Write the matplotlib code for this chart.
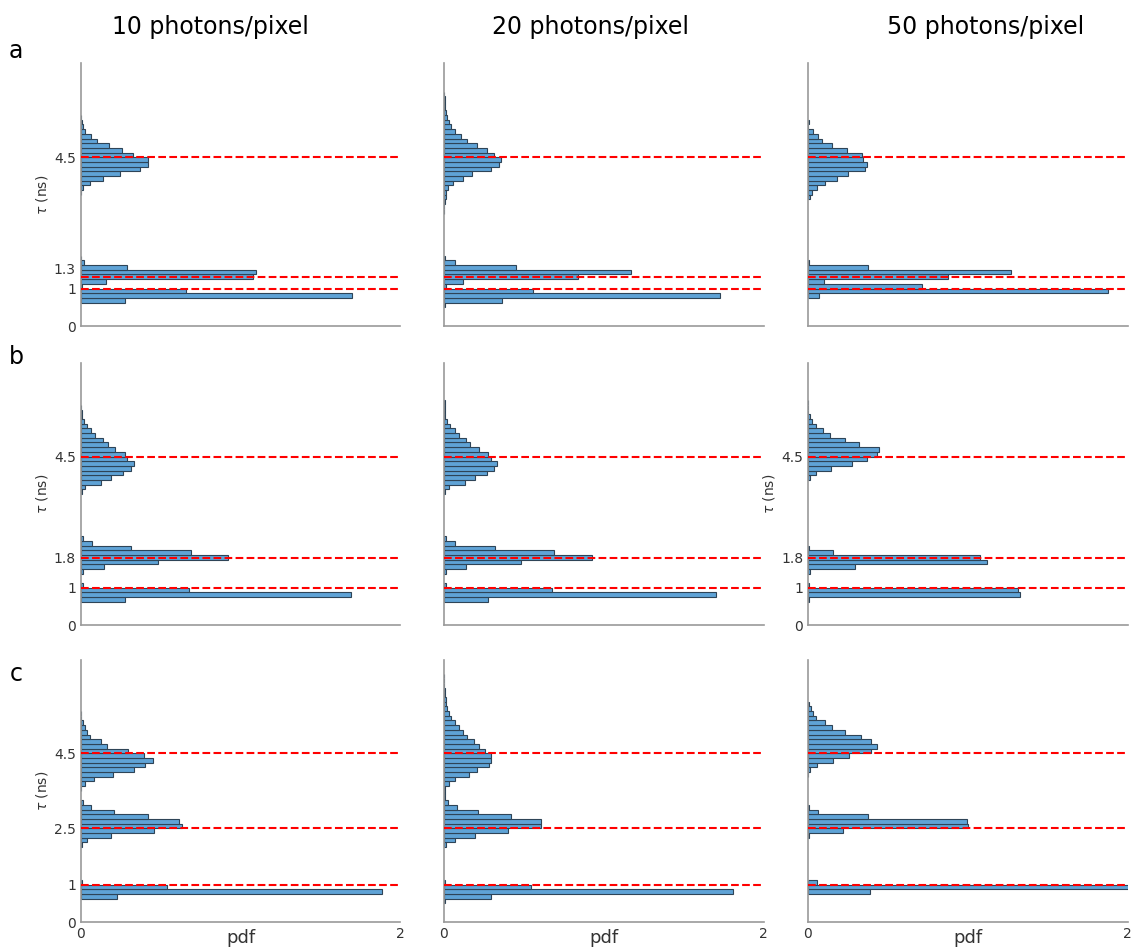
import matplotlib
matplotlib.use("Agg")
import matplotlib.pyplot as plt

# histogram bin width (ns); every cluster is {first bin edge (ns): pdf values going up}
BIN = 0.125

titles = ["10 photons/pixel", "20 photons/pixel", "50 photons/pixel"]
row_letters = ["a", "b", "c"]
true_taus = [[1, 1.3, 4.5], [1, 1.8, 4.5], [1, 2.5, 4.5]]
tick_labels = [["0", "1", "1.3", "4.5"], ["0", "1", "1.8", "4.5"], ["0", "1", "2.5", "4.5"]]

# row a: 1 ns / 1.3 ns / 4.5 ns
a10 = {0.625: [0.28, 1.70, 0.66, 0.01, 0.16, 1.08, 1.10, 0.29, 0.02, 0.005],
       3.5: [0.004, 0.013, 0.058, 0.138, 0.246, 0.37, 0.42, 0.42, 0.325, 0.26,
             0.175, 0.10, 0.067, 0.03, 0.012, 0.006, 0.003]}
a20 = {0.5: [0.004, 0.36, 1.73, 0.56, 0.013, 0.12, 0.84, 1.17, 0.45, 0.071, 0.004],
       3.0: [0.002, 0.003, 0.006, 0.013, 0.013, 0.025, 0.054, 0.117, 0.175, 0.292,
             0.347, 0.355, 0.313, 0.267, 0.205, 0.142, 0.109, 0.067, 0.046, 0.029,
             0.021, 0.013, 0.008, 0.008, 0.004, 0.002]}
a50 = {0.75: [0.071, 1.88, 0.714, 0.10, 0.875, 1.27, 0.378, 0.004],
       3.375: [0.010, 0.023, 0.058, 0.106, 0.184, 0.248, 0.355, 0.372, 0.347, 0.338,
               0.242, 0.152, 0.088, 0.061, 0.029, 0.0, 0.005]}

# row b: 1 ns / 1.8 ns / 4.5 ns
b10 = {0.625: [0.276, 1.695, 0.676, 0.012],
       1.375: [0.012, 0.144, 0.482, 0.925, 0.689, 0.317, 0.069, 0.012],
       3.5: [0.008, 0.029, 0.129, 0.192, 0.263, 0.313, 0.334, 0.288, 0.276, 0.217,
             0.171, 0.138, 0.092, 0.067, 0.038, 0.021, 0.010, 0.008, 0.005]}
b20 = {0.625: [0.276, 1.70, 0.676, 0.012],
       1.375: [0.012, 0.138, 0.484, 0.927, 0.689, 0.317, 0.067, 0.012],
       3.5: [0.008, 0.033, 0.129, 0.192, 0.267, 0.313, 0.334, 0.292, 0.276, 0.217,
             0.163, 0.138, 0.092, 0.067, 0.038, 0.021, 0.008, 0.006, 0.005, 0.004]}
b50 = {0.625: [0.008, 1.328, 1.315, 0.008],
       1.375: [0.013, 0.292, 1.119, 1.077, 0.159, 0.004],
       3.875: [0.013, 0.052, 0.144, 0.278, 0.372, 0.434, 0.443, 0.322, 0.234, 0.140,
               0.096, 0.050, 0.027, 0.013, 0.003, 0.003, 0.003]}

# row c: 1 ns / 2.5 ns / 4.5 ns
c10 = {0.625: [0.225, 1.889, 0.539, 0.008],
       2.0: [0.006, 0.038, 0.192, 0.459, 0.635, 0.618, 0.422, 0.209, 0.063, 0.017],
       3.5: [0.005, 0.029, 0.084, 0.200, 0.334, 0.401, 0.455, 0.397, 0.296, 0.167,
             0.125, 0.058, 0.042, 0.025, 0.013, 0.0, 0.004]}
c20 = {0.5: [0.004, 0.292, 1.81, 0.547, 0.008],
       2.0: [0.013, 0.067, 0.196, 0.401, 0.605, 0.610, 0.422, 0.213, 0.084, 0.025,
             0.008, 0.004],
       3.5: [0.008, 0.029, 0.071, 0.159, 0.209, 0.280, 0.292, 0.292, 0.259, 0.221,
             0.188, 0.146, 0.117, 0.092, 0.071, 0.042, 0.029, 0.021, 0.015, 0.010,
             0.006, 0.004, 0.002, 0.002, 0.002]}
c50 = {0.75: [0.388, 2.05, 0.054],
       2.25: [0.004, 0.219, 1.0, 0.994, 0.376, 0.063, 0.004],
       3.875: [0.002, 0.010, 0.058, 0.157, 0.255, 0.392, 0.434, 0.397, 0.330, 0.234,
               0.150, 0.104, 0.052, 0.031, 0.017, 0.004]}

panels = [[a10, a20, a50], [b10, b20, b50], [c10, c20, c50]]

BAR_FACE = "#5fa3d6"
BAR_EDGE = "#2e4457"
SPINE = "#9a9a9a"
TEXT = "#333333"

fig = plt.figure(figsize=(11.31, 9.5), dpi=100)

lefts = [80.7, 444.0, 808.0]
bottoms = [326.0, 625.3, 922.0]
W, H = 1131.0, 950.0
ax_w, ax_h = 319.5, 262.5

for r in range(3):
    for c in range(3):
        ax = fig.add_axes([lefts[c] / W, 1 - bottoms[r] / H, ax_w / W, ax_h / H])
        for start, vals in panels[r][c].items():
            edges = [start + i * BIN for i in range(len(vals))]
            ax.barh(edges, vals, height=BIN, align="edge", color=BAR_FACE,
                    edgecolor=BAR_EDGE, linewidth=0.8, zorder=2)
        for t in true_taus[r]:
            ax.axhline(t, color="red", linestyle="--", linewidth=1.5, zorder=3)

        ax.set_xlim(0, 2)
        ax.set_ylim(0, 7)
        for s in ["top", "right"]:
            ax.spines[s].set_visible(False)
        for s in ["left", "bottom"]:
            ax.spines[s].set_color(SPINE)
            ax.spines[s].set_linewidth(1.2)
        ax.tick_params(length=0, pad=3.5, labelsize=10, colors=TEXT)

        show_y = (c == 0) or (r == 1 and c == 2)
        ticks = [0] + true_taus[r]
        ax.set_yticks(ticks)
        if show_y:
            labs = list(tick_labels[r])
            if r == 0:
                # the 1.3 label sits a little above its line in the original
                labs[2] = ""
                ax.annotate(tick_labels[r][2], xy=(0, true_taus[r][1]),
                            xycoords=("axes fraction", "data"), xytext=(-3.5, 5),
                            textcoords="offset points", ha="right", va="center",
                            fontsize=10, color=TEXT)
            ax.set_yticklabels(labs)
            ax.set_ylabel(r"$\tau$ (ns)", fontsize=10, color=TEXT, labelpad=3)
        else:
            ax.set_yticklabels([])

        ax.set_xticks([0, 2])
        if r == 2:
            ax.set_xticklabels(["0", "2"])
            ax.set_xlabel("pdf", fontsize=13, color=TEXT)
            ax.xaxis.set_label_coords(0.5, -0.025)
        else:
            ax.set_xticklabels([])

title_x = [210, 590, 986]
for c in range(3):
    fig.text(title_x[c] / W, 1 - 27 / H, titles[c], fontsize=17, ha="center", va="center")

letter_y = [51, 357, 674]
for r in range(3):
    fig.text(16 / W, 1 - letter_y[r] / H, row_letters[r], fontsize=17, ha="center", va="center")

fig.savefig("out.png", dpi=100)
